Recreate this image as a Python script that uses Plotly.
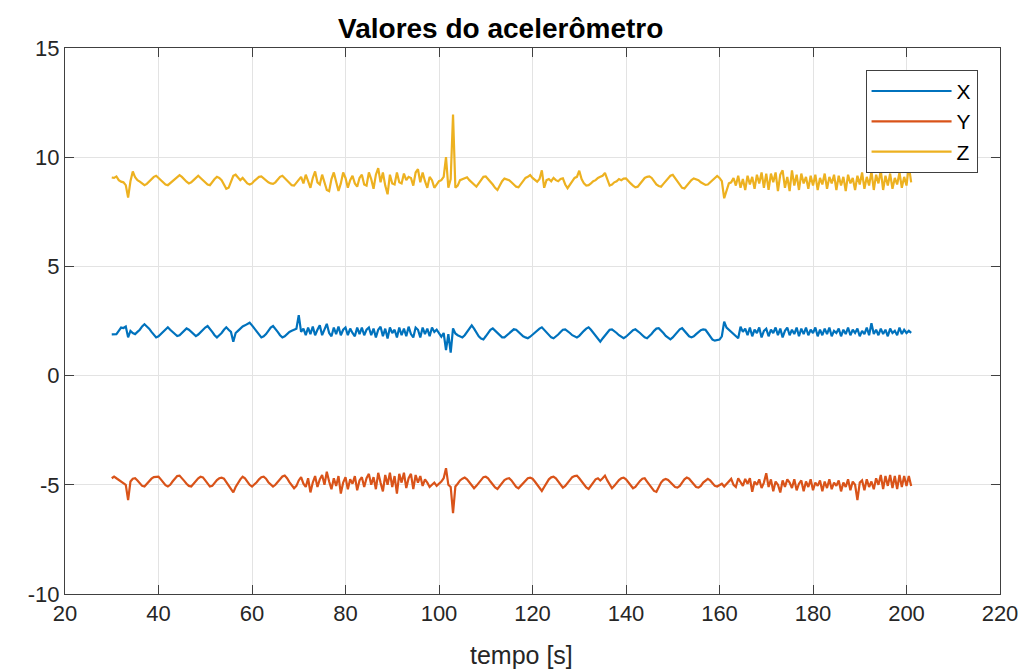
import numpy as np
import plotly.graph_objects as go

# Sampled every 0.5 s starting at t = 30 s (rows of 5 s)
z_vals = [
    9.07, 9.05, 9.12, 8.95, 8.88, 8.85, 8.72, 8.15, 8.9, 9.35,
    9.08, 8.95, 8.88, 8.8, 8.72, 8.78, 8.9, 9.0, 9.1, 9.15,
    9.05, 8.95, 8.85, 8.75, 8.72, 8.82, 8.92, 9.02, 9.12, 9.18,
    9.1, 8.98, 8.88, 8.8, 8.85, 8.95, 9.05, 9.15, 9.05, 8.95,
    8.85, 8.75, 8.72, 8.88, 9.0, 9.1, 9.05, 8.95, 8.75, 8.55,
    8.6, 8.9, 9.15, 9.2, 9.05, 8.95, 9.05, 8.9, 8.8, 8.75,
    8.8, 8.92, 9.02, 9.1, 9.12, 9.02, 8.92, 8.85, 8.8, 8.78,
    8.85, 8.98, 9.1, 9.15, 9.05, 8.95, 8.82, 8.72, 8.7, 8.85,
    8.95, 9.1, 8.8, 9.2, 8.9, 8.6, 9.05, 9.35, 8.85, 8.75,
    9.2, 8.85, 8.5, 8.45, 9.0, 9.3, 8.9, 8.45, 8.8, 9.3,
    9.05, 8.6, 8.95, 9.15, 8.8, 8.65, 9.05, 9.2, 8.75, 8.7,
    9.3, 9.0, 8.55, 9.2, 9.5, 8.85, 9.3, 8.7, 8.3, 9.2,
    8.8, 8.75, 9.3, 8.85, 8.8, 9.25, 8.95, 9.1, 9.05, 8.7,
    9.3, 9.45, 8.85, 9.3, 8.9, 8.6, 9.1, 8.95, 8.6, 8.75,
    8.9, 8.95, 9.1, 10.0, 8.6, 9.0, 11.95, 8.6, 8.7, 8.95,
    9.0, 9.05, 9.08, 8.95, 8.85, 8.72, 8.65, 8.8, 8.95, 9.1,
    9.12, 9.0, 8.9, 8.75, 8.6, 8.5, 8.7, 8.9, 9.02, 8.98,
    8.95, 8.85, 8.75, 8.65, 8.62, 8.75, 8.88, 9.05, 9.1, 9.18,
    9.05, 8.95, 8.88, 9.0, 9.4, 8.6, 8.95, 9.0, 8.9, 9.05,
    8.95, 8.9, 9.0, 9.03, 8.75, 8.58, 8.75, 8.9, 9.05, 9.1,
    9.38, 9.0, 8.8, 8.7, 8.72, 8.8, 8.9, 8.95, 9.05, 9.1,
    9.15, 9.28, 8.95, 8.7, 8.75, 8.85, 8.9, 9.0, 8.95, 9.02,
    9.03, 8.9, 8.8, 8.7, 8.62, 8.65, 8.8, 8.95, 9.05, 9.1,
    9.12, 9.05, 8.9, 8.75, 8.68, 8.65, 8.78, 8.9, 9.05, 9.15,
    9.19, 9.05, 8.9, 8.75, 8.6, 8.57, 8.7, 8.85, 8.95, 9.03,
    9.0, 8.95, 8.85, 8.78, 8.73, 8.75, 8.85, 8.95, 9.05, 9.14,
    9.05, 8.9, 8.12, 8.5, 8.8, 8.85, 9.05, 8.7, 9.15, 8.6,
    9.0, 8.5, 9.15, 8.75, 9.1, 8.55, 9.2, 8.8, 9.3, 8.6,
    9.25, 8.5, 9.25, 8.85, 9.3, 8.45, 9.2, 9.4, 8.6, 9.1,
    8.45, 9.4, 8.7, 9.2, 8.5, 9.25, 8.8, 9.1, 8.55, 9.15,
    8.7, 9.2, 8.5, 9.05, 8.75, 9.25, 8.55, 9.1, 8.8, 9.2,
    8.5, 9.15, 8.7, 9.1, 8.45, 9.2, 8.8, 9.05, 8.5, 9.15,
    8.75, 9.3, 8.55, 9.1, 8.7, 9.35, 8.5, 9.2, 8.8, 9.4,
    8.5, 9.15, 8.7, 9.25, 8.55, 9.05, 8.75, 9.3, 8.6, 9.1,
    8.7, 9.6, 8.85,
]

x_vals = [
    1.89, 1.88, 1.9, 2.05, 2.2, 2.18, 2.25, 1.75, 2.05, 1.95,
    1.9, 2.0, 2.1, 2.25, 2.35, 2.25, 2.15, 2.0, 1.85, 1.75,
    1.8, 1.9, 2.0, 2.12, 2.21, 2.1, 2.0, 1.9, 1.81, 1.85,
    1.95, 2.05, 2.16, 2.1, 2.0, 1.9, 1.81, 1.88, 2.0, 2.1,
    2.2, 2.27, 2.15, 2.0, 1.85, 1.75, 1.85, 1.95, 2.1, 2.21,
    2.1, 2.0, 1.55, 1.95, 2.05, 2.15, 2.25, 2.3, 2.35, 2.42,
    2.3, 2.15, 2.0, 1.85, 1.75, 1.8, 1.9, 2.05, 2.2, 2.27,
    2.15, 2.0, 1.85, 1.75, 1.8, 1.9, 2.0, 2.05, 2.1, 2.15,
    2.77, 2.0, 2.15, 1.85, 2.2, 1.9, 2.25, 1.85, 2.1, 2.3,
    1.85, 2.15, 2.37, 1.95, 1.8, 2.2, 1.9, 2.25, 1.85, 2.1,
    2.2, 1.85, 2.15, 1.95, 1.8, 2.2, 1.9, 2.2, 1.85, 2.1,
    2.2, 1.85, 2.15, 1.75, 2.1, 2.24, 1.8, 2.15, 1.7, 2.2,
    1.95, 2.1, 1.75, 2.2, 1.85, 2.15, 1.8, 2.24, 1.9, 1.75,
    2.2, 2.1, 1.75, 2.2, 1.9, 2.15, 1.8, 2.2, 2.0, 2.1,
    1.95, 1.78, 1.95, 1.17, 1.9, 1.05, 2.16, 1.93, 1.85, 1.8,
    1.75, 1.85, 2.0, 2.15, 2.3, 2.15, 1.95, 1.8, 1.7, 1.66,
    1.8, 1.95, 2.1, 2.16, 2.05, 1.95, 1.85, 1.75, 1.75, 1.85,
    1.95, 2.05, 2.12, 2.1, 2.0, 1.9, 1.8, 1.75, 1.71, 1.78,
    1.88, 1.98, 2.08, 2.15, 2.21, 2.1, 1.95, 1.85, 1.75, 1.71,
    1.78, 1.88, 2.0, 2.1, 2.12, 2.05, 1.95, 1.85, 1.78, 1.75,
    1.82, 1.95, 2.05, 2.15, 2.21, 2.1, 1.95, 1.8, 1.65, 1.55,
    1.7, 1.85, 2.0, 2.1, 2.12, 2.05, 1.95, 1.85, 1.78, 1.71,
    1.78, 1.88, 1.98, 2.08, 2.12, 2.05, 1.95, 1.85, 1.75, 1.71,
    1.8, 1.92, 2.05, 2.15, 2.17, 2.08, 1.95, 1.82, 1.72, 1.66,
    1.75, 1.88, 2.0, 2.12, 2.17, 2.05, 1.9, 1.8, 1.75, 1.8,
    1.9, 2.0, 2.08, 2.12, 2.1, 1.95, 1.8, 1.65, 1.6, 1.62,
    1.65, 1.8, 2.47, 2.2, 2.1, 2.0, 1.88, 1.8, 1.71, 2.24,
    2.0, 2.15, 1.85, 2.2, 1.8, 2.1, 1.95, 2.2, 1.75, 2.05,
    2.15, 1.8, 2.1, 1.95, 2.2, 1.85, 2.15, 1.75, 2.05, 2.2,
    1.85, 2.1, 1.9, 2.2, 1.8, 2.15, 1.9, 2.2, 1.85, 2.1,
    1.95, 2.2, 1.8, 2.1, 1.85, 2.15, 1.9, 2.2, 1.8, 2.05,
    1.95, 2.15, 1.8, 2.1, 1.9, 2.2, 1.85, 2.1, 1.95, 2.15,
    1.8, 2.05, 1.9, 2.2, 1.85, 2.4, 1.9, 2.1, 1.85, 2.15,
    1.9, 2.1, 1.8, 2.15, 1.95, 2.05, 1.85, 2.2, 1.9, 2.1,
    1.95, 2.05, 1.96,
]

y_vals = [
    -4.7, -4.62, -4.7, -4.78, -4.85, -4.92, -5.0, -5.7, -4.85, -4.72,
    -4.7, -4.8, -4.95, -5.05, -5.08, -4.95, -4.85, -4.72, -4.65, -4.63,
    -4.63, -4.75, -4.9, -5.02, -5.08, -5.0, -4.85, -4.72, -4.6, -4.58,
    -4.68, -4.82, -4.95, -5.05, -5.08, -4.95, -4.82, -4.7, -4.63, -4.66,
    -4.8, -4.95, -5.08, -5.05, -4.9, -4.78, -4.7, -4.67, -4.72, -4.88,
    -5.05, -5.2, -5.35, -5.1, -4.9, -4.75, -4.63, -4.7, -4.85, -5.0,
    -5.08, -5.0, -4.88, -4.75, -4.65, -4.63, -4.72, -4.88, -5.0, -5.08,
    -5.0, -4.88, -4.75, -4.62, -4.58, -4.7, -4.88, -5.05, -5.16, -5.05,
    -4.8, -4.65, -4.95, -5.1, -4.7, -5.35, -4.9, -4.6, -5.1, -4.75,
    -4.55, -5.0, -4.4, -4.85, -5.2, -4.7, -5.05, -4.6, -5.4, -4.9,
    -4.65, -5.2, -4.75, -4.95, -4.6, -5.25, -4.8, -4.65, -5.1, -4.7,
    -4.5, -5.0, -4.65, -5.2, -4.45, -4.9, -5.3, -4.55, -5.0, -4.45,
    -5.1, -4.6, -5.4, -4.5, -4.9, -4.45, -5.15, -4.7, -4.5, -5.2,
    -4.55, -4.9, -4.6, -5.05, -4.75, -4.9, -5.1, -5.0, -4.9, -5.05,
    -4.95, -4.85, -4.7, -4.24, -5.0, -5.1, -6.3, -5.08, -4.95, -4.8,
    -4.72, -4.67, -4.75, -4.9, -5.05, -5.16, -5.05, -4.9, -4.75, -4.65,
    -4.63, -4.7, -4.85, -5.0, -5.12, -5.19, -5.05, -4.9, -4.78, -4.72,
    -4.7, -4.8, -4.95, -5.1, -5.16, -5.05, -4.9, -4.78, -4.7, -4.67,
    -4.72, -4.85, -5.0, -5.15, -5.28, -5.1, -4.9, -4.75, -4.66, -4.63,
    -4.7, -4.85, -5.0, -5.13, -5.05, -4.9, -4.75, -4.65, -4.6, -4.58,
    -4.7, -4.85, -5.0, -5.12, -5.19, -5.05, -4.9, -4.75, -4.7, -4.8,
    -4.7, -4.58, -4.8, -5.0, -5.16, -5.05, -4.9, -4.78, -4.7, -4.67,
    -4.75, -4.9, -5.05, -5.16, -5.1, -4.95, -4.82, -4.72, -4.7, -4.85,
    -5.0, -5.15, -5.28, -5.32, -5.1, -4.9, -4.78, -4.73, -4.78, -4.9,
    -5.0, -5.1, -5.13, -5.05, -4.9, -4.75, -4.67, -4.72, -4.85, -5.0,
    -5.1, -5.13, -5.05, -4.9, -4.8, -4.73, -4.8, -4.95, -5.05, -5.08,
    -5.0, -4.95, -5.08, -4.95, -4.85, -4.73, -5.0, -5.1, -4.7, -4.9,
    -5.05, -4.73, -4.95, -4.7, -5.32, -4.85, -5.0, -4.75, -5.15, -4.9,
    -4.47, -5.1, -4.75, -5.3, -4.85, -5.0, -5.35, -4.8, -5.1, -4.75,
    -4.9, -5.15, -4.75, -5.25, -4.95, -4.8, -5.3, -4.85, -5.1, -4.75,
    -5.25, -4.9, -5.05, -4.8, -5.3, -4.85, -5.15, -4.75, -5.2, -4.9,
    -5.05, -4.8, -5.3, -4.9, -5.1, -4.75, -5.25, -4.85, -5.0, -5.7,
    -4.9, -4.8, -5.25, -4.75, -5.1, -4.85, -5.2, -4.7, -5.0, -4.55,
    -5.2, -4.6, -5.05, -4.55, -5.15, -4.6, -5.2, -4.55, -5.1, -4.6,
    -5.05, -4.6, -5.05,
]

x_ticks = [20, 40, 60, 80, 100, 120, 140, 160, 180, 200, 220]
y_ticks = [-10, -5, 0, 5, 10, 15]
y_tick_labels = ["-10", "-5", "0", "5", "10", "15"]

t_start = 30.0
t_step = 0.5

def times(vals):
    return t_start + t_step * np.arange(len(vals))

series = [("X", x_vals, "#0072BD"), ("Y", y_vals, "#D95319"), ("Z", z_vals, "#EDB120")]

fig = go.Figure()
for name, vals, color in series:
    fig.add_trace(go.Scatter(x=times(vals), y=vals, mode="lines", name=name,
                             line=dict(color=color, width=2.2)))

font_family = "Liberation Sans, Arial, sans-serif"
axis_common = dict(
    showline=True, linecolor="#404040", linewidth=1, mirror="ticks",
    ticks="inside", ticklen=9, tickcolor="#404040",
    showgrid=True, gridcolor="#E3E3E3", gridwidth=1, zeroline=False,
    tickfont=dict(size=22, color="#262626", family=font_family),
    automargin=False,
)

fig.update_layout(
    width=1019, height=670, autosize=False,
    margin=dict(l=65, r=19, t=48, b=76, autoexpand=False),
    paper_bgcolor="white", plot_bgcolor="white",
    font=dict(family=font_family, color="#262626"),
    title=dict(text="<b>Valores do acelerômetro</b>", x=0.466, xanchor="center",
               xref="paper", y=0.958, yanchor="middle",
               font=dict(size=28, color="#000000", family=font_family)),
    xaxis=dict(range=[20, 220], tickvals=x_ticks, ticktext=[str(v) for v in x_ticks],
               **axis_common),
    yaxis=dict(range=[-10, 15], tickvals=y_ticks, ticktext=y_tick_labels, **axis_common),
    legend=dict(x=0.976, xanchor="right", y=0.96, yanchor="top",
                bgcolor="white", bordercolor="#404040", borderwidth=1,
                font=dict(size=21, color="#000000"), itemwidth=80,
                tracegroupgap=0),
    showlegend=True,
    annotations=[dict(text="tempo [s]", xref="paper", yref="paper",
                      x=0.488, y=-0.112, xanchor="center", yanchor="middle",
                      showarrow=False, font=dict(size=25, color="#262626"))],
)

fig.write_html("out.html")
